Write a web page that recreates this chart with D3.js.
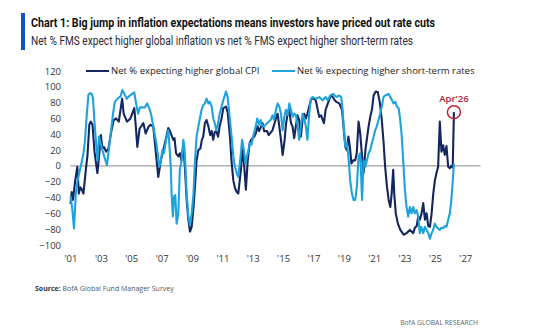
<!DOCTYPE html>
<html>
<head>
<meta charset="utf-8">
<script src="https://cdn.jsdelivr.net/npm/d3@7/dist/d3.min.js"></script>
<style>
  html, body { margin: 0; padding: 0; background: #fff; }
  svg { display: block; }
</style>
</head>
<body>
<svg id="chart" width="540" height="329"></svg>
<script>
// Net % of fund managers expecting higher global CPI, [decimal year, value]
const cpiSeries = [
  [2001.00,-48],[2001.08,-33],[2001.17,-43],[2001.30,-20],[2001.45,-1],[2001.55,-35],[2001.65,-27],[2001.75,-30],[2001.85,-35],
  [2002.02,-3],[2002.12,14],[2002.24,52],[2002.33,56],[2002.45,52],[2002.58,18],[2002.77,-9],[2002.88,12],
  [2003.00,39],[2003.10,22],[2003.20,24],[2003.35,18],[2003.50,22],[2003.68,43],[2003.85,58],
  [2004.00,60],[2004.18,56],[2004.40,85],[2004.50,66],[2004.72,56],[2004.95,60],
  [2005.20,73],[2005.30,50],[2005.40,24],[2005.55,47],[2005.80,54],[2005.95,41],
  [2006.15,50],[2006.28,52],[2006.45,50],[2006.67,7],[2006.78,-14],[2006.95,7],
  [2007.22,29],[2007.44,48],[2007.55,44],[2007.77,33],[2007.85,35],[2007.95,16],
  [2008.10,12],[2008.20,16],[2008.30,7],[2008.43,26],[2008.53,-1],[2008.65,-43],[2008.76,-68],[2008.87,-83],[2008.98,-77],
  [2009.10,-52],[2009.20,-26],[2009.30,7],[2009.42,20],[2009.55,22],[2009.65,33],[2009.74,37],[2009.85,54],[2009.96,58],
  [2010.08,50],[2010.20,39],[2010.30,44],[2010.40,33],[2010.50,43],[2010.60,44],[2010.72,37],[2010.82,50],[2010.95,60],
  [2011.06,73],[2011.24,75],[2011.35,68],[2011.50,37],[2011.60,7],[2011.72,-18],[2011.83,-28],[2011.95,-33],
  [2012.05,-35],[2012.22,-5],[2012.33,24],[2012.44,-1],[2012.55,-30],[2012.67,7],[2012.80,29],[2012.90,33],
  [2013.10,37],[2013.20,41],[2013.32,50],[2013.42,44],[2013.65,54],[2013.75,44],[2013.95,44],
  [2014.05,39],[2014.30,45],[2014.53,60],[2014.64,66],[2014.75,50],[2014.86,33],[2014.97,14],
  [2015.08,29],[2015.20,54],[2015.30,66],[2015.40,71],[2015.52,54],[2015.62,50],[2015.73,35],[2015.84,50],[2015.95,64],
  [2016.06,58],[2016.17,37],[2016.28,58],[2016.38,66],[2016.50,60],[2016.60,66],[2016.72,75],[2016.83,83],[2016.94,86],
  [2017.15,83],[2017.38,62],[2017.50,64],[2017.69,54],[2017.80,71],[2017.95,79],
  [2018.10,87],[2018.20,89],[2018.40,83],[2018.50,81],[2018.70,79],[2018.88,71],[2018.98,50],
  [2019.10,24],[2019.20,20],[2019.30,37],[2019.40,24],[2019.50,3],[2019.62,7],[2019.75,7],[2019.85,16],[2019.97,56],
  [2020.08,41],[2020.20,12],[2020.30,-9],[2020.42,20],[2020.63,50],[2020.74,62],[2020.85,71],[2020.96,89],
  [2021.10,94],[2021.24,93],[2021.38,79],[2021.50,58],[2021.62,29],[2021.72,-1],[2021.84,-26],[2021.95,-43],
  [2022.06,-52],[2022.15,-35],[2022.25,-5],[2022.32,-35],[2022.42,-60],[2022.56,-73],[2022.72,-81],[2022.94,-87],
  [2023.13,-85],[2023.35,-81],[2023.57,-85],[2023.68,-78],[2023.80,-76],[2023.90,-64],
  [2024.01,-68],[2024.12,-60],[2024.23,-47],[2024.34,-68],[2024.45,-60],[2024.56,-76],[2024.67,-77],[2024.78,-60],[2024.89,-35],
  [2025.00,-18],[2025.10,-9],[2025.21,-1],[2025.32,56],[2025.43,18],[2025.54,26],[2025.65,14],[2025.76,25],[2025.87,-1],[2025.98,-3],
  [2026.08,0],[2026.17,-2],[2026.25,68]
];

// Net % of fund managers expecting higher short-term rates, [decimal year, value]
const ratesSeries = [
  [2001.00,-38],[2001.12,-55],[2001.23,-79],[2001.35,-35],[2001.45,-20],[2001.65,-3],[2001.84,14],[2001.95,31],
  [2002.07,64],[2002.18,90],[2002.30,92],[2002.40,91],[2002.48,86],[2002.58,55],[2002.68,30],[2002.78,7],[2002.88,37],[2002.98,29],
  [2003.10,20],[2003.22,12],[2003.40,1],[2003.52,20],[2003.65,41],[2003.80,66],[2003.92,81],
  [2004.15,86],[2004.30,88],[2004.41,96],[2004.55,91],[2004.70,85],[2004.85,88],
  [2005.05,91],[2005.20,93],[2005.32,79],[2005.45,66],[2005.58,74],[2005.75,74],[2005.90,74],
  [2006.05,79],[2006.20,72],[2006.30,66],[2006.45,50],[2006.65,29],[2006.85,-1],[2006.95,7],
  [2007.05,20],[2007.15,16],[2007.33,37],[2007.44,45],[2007.52,24],[2007.60,-1],[2007.66,-35],[2007.74,-64],[2007.82,-39],[2007.90,-37],[2007.99,-73],
  [2008.10,-60],[2008.20,-5],[2008.32,7],[2008.43,33],[2008.50,24],[2008.58,-5],[2008.65,-35],[2008.76,-64],[2008.87,-75],[2008.98,-60],
  [2009.10,-35],[2009.20,7],[2009.30,37],[2009.42,50],[2009.52,60],[2009.63,71],[2009.74,77],[2009.85,79],[2009.96,85],
  [2010.08,79],[2010.18,81],[2010.30,75],[2010.40,60],[2010.50,54],[2010.60,45],[2010.72,54],[2010.82,66],[2010.95,75],
  [2011.06,83],[2011.24,94],[2011.35,87],[2011.50,58],[2011.61,37],[2011.72,12],[2011.83,-1],[2011.95,-9],
  [2012.05,-14],[2012.20,12],[2012.30,33],[2012.42,20],[2012.52,3],[2012.62,12],[2012.72,20],[2012.82,29],[2012.92,27],
  [2013.05,39],[2013.20,50],[2013.30,60],[2013.42,52],[2013.52,58],[2013.64,50],[2013.75,50],[2013.95,54],
  [2014.18,58],[2014.30,64],[2014.40,58],[2014.53,71],[2014.64,79],[2014.75,75],[2014.86,66],[2014.97,45],
  [2015.08,62],[2015.19,71],[2015.30,64],[2015.41,79],[2015.52,71],[2015.63,62],[2015.74,66],[2015.85,64],[2015.96,50],
  [2016.06,33],[2016.17,50],[2016.28,66],[2016.39,60],[2016.50,50],[2016.60,33],[2016.72,66],[2016.83,85],[2016.94,87],
  [2017.15,85],[2017.38,87],[2017.60,83],[2017.80,87],[2017.95,83],
  [2018.10,89],[2018.30,91],[2018.50,87],[2018.70,89],[2018.83,87],[2018.92,71],[2018.99,50],
  [2019.10,24],[2019.20,29],[2019.30,12],[2019.42,-18],[2019.53,-35],[2019.64,-43],[2019.75,-43],[2019.86,-26],[2019.97,12],
  [2020.08,16],[2020.20,-43],[2020.30,7],[2020.42,-1],[2020.52,7],[2020.63,16],[2020.74,20],[2020.85,29],[2020.96,37],
  [2021.06,45],[2021.17,50],[2021.28,58],[2021.39,66],[2021.50,75],[2021.61,87],[2021.72,89],[2021.95,91],
  [2022.06,87],[2022.17,83],[2022.28,79],[2022.39,81],[2022.50,75],[2022.61,73],[2022.69,62],[2022.80,41],[2022.91,7],
  [2023.02,-30],[2023.13,-52],[2023.24,-64],[2023.35,-52],[2023.46,-60],[2023.57,-52],[2023.68,-60],[2023.79,-56],[2023.90,-64],
  [2024.00,-85],[2024.10,-77],[2024.23,-85],[2024.34,-77],[2024.45,-81],[2024.56,-85],[2024.67,-92],[2024.78,-85],[2024.88,-81],[2024.99,-73],
  [2025.10,-77],[2025.21,-79],[2025.32,-81],[2025.43,-78],[2025.54,-79],[2025.65,-76],[2025.76,-77],[2025.87,-68],[2025.98,-60],
  [2026.08,-43],[2026.17,-20],[2026.25,3]
];

const yTicks = [120, 100, 80, 60, 40, 20, 0, -20, -40, -60, -80, -100];
const xTicks = [2001, 2003, 2005, 2007, 2009, 2011, 2013, 2015, 2017, 2019, 2021, 2023, 2025, 2027];
const seriesNames = ["Net % expecting higher global CPI", "Net % expecting higher short-term rates"];
const highlight = { t: 2026.25, label: "Apr'26" };

const svg = d3.select("#chart");
const font = "'Open Sans', 'Liberation Sans', sans-serif";
const darkBlue = "#13265f";
const lightBlue = "#1ea2dc";
const accentRed = "#b5232f";

const x = d3.scaleLinear().domain([2001, 2028]).range([70.5, 480.5]);
const y = d3.scaleLinear().domain([-100, 120]).range([245, 71]);

// Header
svg.append("rect").attr("x", 21).attr("y", 13).attr("width", 4).attr("height", 37).attr("fill", "#0a56c2");
svg.append("text").attr("x", 31).attr("y", 27)
  .attr("font-family", "'Liberation Sans Narrow', 'Roboto', sans-serif").attr("font-weight", 700)
  .attr("font-size", 13).attr("fill", "#111")
  .attr("textLength", 404).attr("lengthAdjust", "spacingAndGlyphs")
  .text("Chart 1: Big jump in inflation expectations means investors have priced out rate cuts");
svg.append("text").attr("x", 31).attr("y", 45)
  .attr("font-family", "'Liberation Sans Narrow', 'Roboto', sans-serif")
  .attr("font-size", 12).attr("fill", "#2a2a3a")
  .attr("textLength", 382).attr("lengthAdjust", "spacingAndGlyphs")
  .text("Net % FMS expect higher global inflation vs net % FMS expect higher short-term rates");

// Y axis labels
const yAxis = svg.append("g").attr("transform", "translate(61,0)")
  .call(d3.axisLeft(y).tickValues(yTicks).tickSize(0).tickPadding(0).tickFormat(d3.format("d")));
yAxis.select(".domain").remove();
yAxis.selectAll("text").attr("font-family", font).attr("font-size", 9.5).attr("fill", "#333");

// X axis labels
const xAxis = svg.append("g").attr("transform", "translate(0,255)")
  .call(d3.axisBottom(x).tickValues(xTicks).tickSize(0).tickPadding(0)
    .tickFormat(d => "'" + String(d).slice(2)));
xAxis.select(".domain").remove();
xAxis.selectAll("text").attr("font-family", font).attr("font-size", 9.5).attr("fill", "#333");

// Zero line
svg.append("line")
  .attr("x1", x(2001)).attr("x2", x(2028))
  .attr("y1", y(0)).attr("y2", y(0))
  .attr("stroke", "#8a8a8a").attr("stroke-width", 1);

const line = d3.line().x(d => x(d[0])).y(d => y(d[1])).curve(d3.curveLinear);

svg.append("path").datum(cpiSeries).attr("d", line)
  .attr("fill", "none").attr("stroke", darkBlue).attr("stroke-width", 2.1).attr("stroke-linejoin", "round");
svg.append("path").datum(ratesSeries).attr("d", line)
  .attr("fill", "none").attr("stroke", lightBlue).attr("stroke-width", 2.1).attr("stroke-linejoin", "round");

// Highlighted latest reading
const last = cpiSeries.find(d => d[0] === highlight.t);
svg.append("circle").attr("cx", x(last[0])).attr("cy", y(last[1])).attr("r", 6.5)
  .attr("fill", "none").attr("stroke", accentRed).attr("stroke-width", 1.5);
svg.append("text").attr("x", x(last[0])).attr("y", y(last[1]) - 10)
  .attr("text-anchor", "middle").attr("font-family", font).attr("font-size", 9.5)
  .attr("font-weight", 600).attr("fill", accentRed).text(highlight.label);

// Legend
const legend = [
  { x0: 86, color: darkBlue, name: seriesNames[0] },
  { x0: 272, color: lightBlue, name: seriesNames[1] }
];
legend.forEach(l => {
  svg.append("line").attr("x1", l.x0).attr("x2", l.x0 + 23).attr("y1", 71).attr("y2", 71)
    .attr("stroke", l.color).attr("stroke-width", 2);
  svg.append("text").attr("x", l.x0 + 25).attr("y", 74.3)
    .attr("font-family", font).attr("font-size", 9.5).attr("fill", "#222").text(l.name);
});

// Footer
const src = svg.append("text").attr("x", 35).attr("y", 291)
  .attr("font-family", font).attr("font-size", 7).attr("fill", "#333");
src.append("tspan").attr("font-weight", 700).text("Source:");
src.append("tspan").attr("fill", "#555").text(" BofA Global Fund Manager Survey");

svg.append("text").attr("x", 478).attr("y", 325).attr("text-anchor", "end")
  .attr("font-family", font).attr("font-size", 6.8).attr("fill", "#666").text("BofA GLOBAL RESEARCH");
</script>
</body>
</html>
